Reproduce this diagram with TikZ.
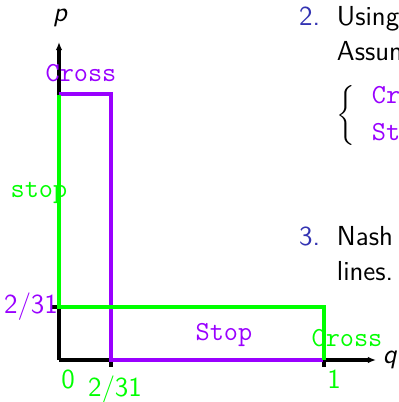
\documentclass[tikz,border=0pt]{standalone}
\usetikzlibrary{arrows.meta}
\definecolor{stratvio}{RGB}{153,0,255}
\definecolor{stratgreen}{RGB}{0,255,0}
\definecolor{itemblue}{RGB}{51,51,178}
\begin{document}
\begin{tikzpicture}[x=0.4pt,y=-0.4pt,
  every node/.style={inner sep=0pt,outer sep=0pt},
  sftext/.style={font=\fontsize{11}{13.6}\selectfont\sffamily},
  tttext/.style={font=\fontsize{11}{13.6}\selectfont\ttfamily},
  axisline/.style={line width=1.3pt,black},
  tickline/.style={line width=1.3pt,black},
  brline/.style={line width=1.4pt,stratvio},
  grline/.style={line width=1.4pt,stratgreen},
  axistip/.style={-{Latex[length=3.2pt,width=2.6pt]}}]
\useasboundingbox (0,0) rectangle (399,402);
\begin{scope}
\clip (0,0) rectangle (399,402);

% key points of the diagram
\coordinate (O) at (59,360);
\coordinate (Ytip) at (59,42);
\coordinate (Xtip) at (376,360);
\coordinate (Ptop) at (59,94);
\coordinate (Pcorner) at (111,94);
\coordinate (Pfoot) at (111,360);
\coordinate (Pend) at (323,360);
\coordinate (Gtop) at (59,94.5);
\coordinate (Gcorner) at (59,307);
\coordinate (Gright) at (324,307);
\coordinate (Gfoot) at (324,360);
\coordinate (TyA) at (52,307);
\coordinate (TyB) at (59,307);
\coordinate (TxA) at (111,360);
\coordinate (TxB) at (111,367);
\coordinate (ToneA) at (324,360);
\coordinate (ToneB) at (324,367);

% axes and ticks
\draw[axisline,axistip] (O) -- (Ytip);
\draw[axisline,axistip] (O) -- (Xtip);
\draw[tickline] (TyA) -- (TyB);
\draw[tickline] (TxA) -- (TxB);
\draw[tickline] (ToneA) -- (ToneB);

% best response of the first player
\draw[brline] (Ptop) -- (Pcorner) -- (Pfoot) -- (Pend);
% best response of the second player
\draw[grline] (Gtop) -- (Gcorner) -- (Gright) -- (Gfoot);

% axis names
\node[sftext,font=\fontsize{11}{13.6}\selectfont\sffamily\slshape,anchor=base] (plab) at (60,21) {p};
\node[sftext,font=\fontsize{11}{13.6}\selectfont\sffamily\slshape,anchor=base west] (qlab) at (383,363) {q};

% strategy and value labels
\node[tttext,text=stratvio,anchor=base] (crossv) at (81,81) {Cross};
\node[tttext,text=stratgreen,anchor=base] (stopg) at (39,197) {stop};
\node[sftext,text=stratvio,anchor=base] (fracv) at (31,313) {2/31};
\node[sftext,text=stratgreen,anchor=base] (zerog) at (68,388) {0};
\node[sftext,text=stratgreen,anchor=base] (fracg) at (115,396) {2/31};
\node[tttext,text=stratvio,anchor=base] (stopv) at (224,340) {Stop};
\node[tttext,text=stratgreen,anchor=base] (crossg) at (347,346) {Cross};
\node[sftext,text=stratgreen,anchor=base] (oneg) at (334,388) {1};

% enumerated text at the right
\node[sftext,text=itemblue,anchor=base east] (itwo) at (320,25) {2.};
\node[sftext,anchor=base west] (using) at (337,25) {Using};
\node[sftext,anchor=base west] (assume) at (337,60) {Assume};
\node[anchor=center] (brace) at (346,115) {$\biggl\{$};
\node[tttext,text=stratvio,anchor=base west] (crossr) at (372,103) {Cross};
\node[tttext,text=stratvio,anchor=base west] (stopr) at (372,140) {Stop};
\node[sftext,text=itemblue,anchor=base east] (ithree) at (320,245) {3.};
\node[sftext,anchor=base west] (nash) at (337,245) {Nash};
\node[sftext,anchor=base west] (lines) at (337,280) {lines.};
\end{scope}
\end{tikzpicture}
\end{document}
